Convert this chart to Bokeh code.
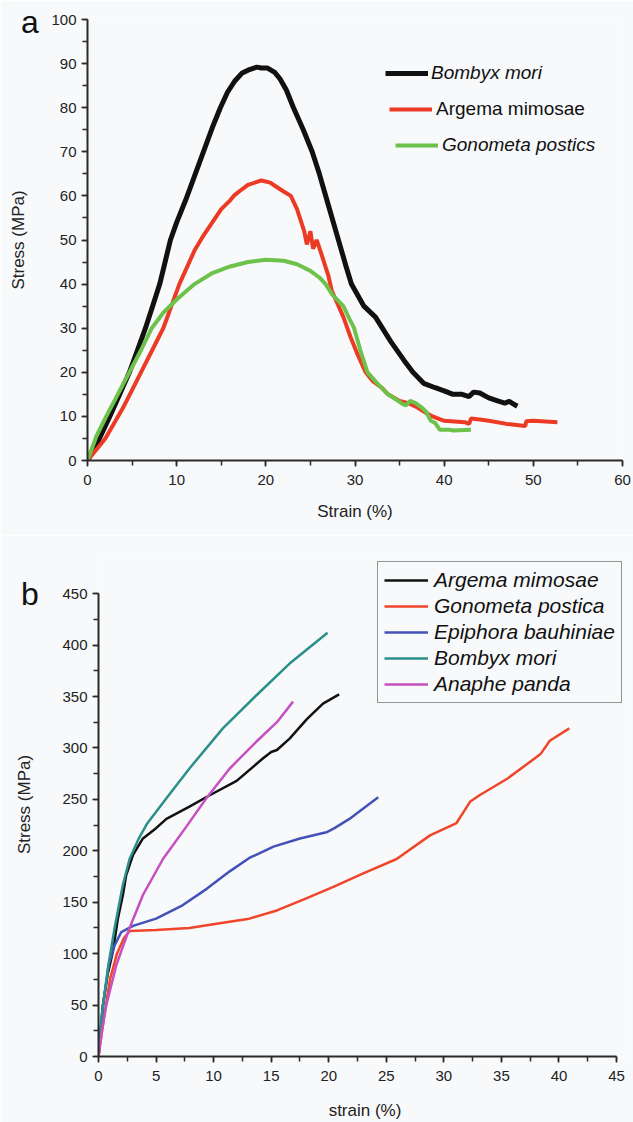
from bokeh.plotting import figure
from bokeh.models import Range1d, Legend, LegendItem, SingleIntervalTicker, Div
from bokeh.embed import file_html
from bokeh.resources import INLINE

# ---------------- Panel a data (Strain %, Stress MPa) ----------------
a_bombyx_strain = [0, 1, 2.5, 3.5, 4.7, 5.6, 6.5, 7.3, 8.1, 8.7, 9.3, 10, 11, 12, 13, 14,
                   14.9, 15.7, 16.5, 17.3, 18, 19, 19.5, 20.2, 21, 21.6, 22.3, 23.1,
                   24.2, 25.2, 26, 27, 28, 29, 29.6, 31, 32.3, 34, 35.5, 36.5, 37.7, 39, 40,
                   41, 42, 42.8, 43.3, 44, 45, 46, 46.8, 47.3, 47.7, 48.2]
a_bombyx_stress = [0, 3.5, 10, 14.5, 20, 25, 30, 35, 40, 45, 50, 54, 59, 64.5, 70, 75.5,
                   80, 83.5, 86, 87.8, 88.5, 89.2, 89, 89, 88, 86.5, 84, 80,
                   75, 70, 65, 58, 51, 44, 40, 35, 32.5, 27, 22.7, 20, 17.5, 16.5, 15.8,
                   15, 15, 14.5, 15.5, 15.3, 14.2, 13.5, 13, 13.4, 12.9, 12.3]

a_argema_strain = [0, 2, 4, 6, 8, 8.5, 10.3, 12, 13, 14, 15, 16, 16.4, 17, 18, 19.5, 20.5,
                   21, 22, 22.8, 23.5, 24.3, 24.6, 25, 25.3, 25.7, 26.2, 27, 27.4, 28.7,
                   29.5, 30.3, 31.2, 32, 33, 33.7, 35, 36, 37, 37.8, 38.7, 40, 42.3, 42.8,
                   43, 44, 45, 47, 49.1, 49.2, 50, 52.7]
a_argema_stress = [0, 5, 12, 20, 28, 30, 40, 47.6, 51, 54, 57, 59, 60, 61, 62.5, 63.5, 63,
                   62.3, 61, 60, 57, 52, 49, 52, 48, 50, 47, 42, 38.5, 32.5,
                   28, 24, 20, 18, 16.5, 15, 13.5, 13, 12, 11, 10, 9, 8.7, 8.3,
                   9.5, 9.3, 9, 8.3, 7.8, 8.9, 9, 8.7]

a_gono_strain = [0, 1, 2.1, 3.4, 4.7, 6, 7.2, 8.5, 10, 12, 14, 16, 18, 20, 22, 23.5, 25,
                 26, 26.7, 27.5, 28.7, 29.4, 29.9, 30.6, 31.4, 32.5, 33.7, 34.5, 35.2,
                 35.7, 36.2, 36.8, 37.5, 38, 38.5, 39, 39.5, 40.5, 41, 43]
a_gono_stress = [0, 5.5, 10, 15, 20, 25, 30, 33.5, 36.5, 40, 42.5, 44, 45, 45.5, 45.3,
                 44.5, 43, 41.5, 40, 37.5, 35, 32, 30, 25, 20, 17.5, 15, 14, 13,
                 12.5, 13.5, 13, 12, 11, 9, 8.5, 7, 7, 6.8, 7]

a_labels = ["Bombyx mori", "Argema mimosae", "Gonometa postics"]

# ---------------- Panel b data (strain %, Stress MPa) ----------------
b_argema_strain = [0, 0.38, 0.8, 1.25, 1.7, 2.12, 2.4, 3, 3.86, 5, 5.9, 7.9, 9.66, 12,
                   14.3, 15, 15.5, 16.6, 18.1, 19.5, 20.9]
b_argema_stress = [0, 50, 80, 102, 135, 157, 176, 196, 212, 222, 231, 243, 254, 268,
                   290, 296, 298, 309, 328, 343, 352]

b_gono_strain = [0, 0.5, 1, 1.6, 2.2, 2.7, 5, 7.9, 10.8, 13.1, 15.5, 18.1, 20.4, 23,
                 25.9, 28.8, 31.1, 32.3, 33.1, 35.5, 38.4, 39.2, 40.9]
b_gono_stress = [0, 40, 75, 100, 115, 122, 123, 125, 130, 134, 142, 154, 165, 178,
                 192, 215, 227, 248, 254, 270, 294, 307, 319]

b_epi_strain = [0, 0.4, 0.9, 1.4, 1.98, 3, 5, 7.3, 9.4, 11.4, 13.1, 15.2, 17.5, 19.8,
                20.5, 21.8, 23, 24.3]
b_epi_stress = [0, 50, 90, 108, 121, 127, 134, 147, 163, 180, 193, 204, 212, 218,
                222, 231, 241, 252]

b_bombyx_strain = [0, 0.24, 0.82, 1.4, 2.12, 2.7, 3.5, 4.2, 5.9, 7.9, 10.8, 13.7, 16.6, 19.9]
b_bombyx_stress = [0, 37, 86, 125, 167, 192, 212, 226, 251, 280, 319, 351, 382, 412]

b_anaphe_strain = [0, 0.3, 0.68, 1.55, 2.7, 3.86, 5.6, 7.6, 9.37, 11.4, 13.7, 15.5, 16.9]
b_anaphe_stress = [0, 25, 50, 89, 125, 157, 192, 223, 251, 280, 306, 325, 345]

b_labels = ["Argema mimosae", "Gonometa postica", "Epiphora bauhiniae", "Bombyx mori", "Anaphe panda"]

BG = "#f8f9fb"
FONT = "Liberation Sans"
AX = "#2a2a2a"


def style(p, xint, yint, xstand, ystand):
    p.xaxis.ticker = SingleIntervalTicker(interval=xint, num_minor_ticks=2)
    p.yaxis.ticker = SingleIntervalTicker(interval=yint, num_minor_ticks=2)
    for ax in (p.xaxis[0], p.yaxis[0]):
        ax.axis_line_width = 2
        ax.axis_line_color = AX
        ax.major_tick_line_color = AX
        ax.minor_tick_line_color = AX
        ax.major_tick_line_width = 1.5
        ax.minor_tick_line_width = 1.5
        ax.major_tick_out = 6
        ax.major_tick_in = 0
        ax.minor_tick_out = 5
        ax.minor_tick_in = 0
        ax.major_label_text_font = FONT
        ax.major_label_text_font_size = "15px"
        ax.major_label_text_color = "#222222"
        ax.axis_label_text_font = FONT
        ax.axis_label_text_font_size = "17px"
        ax.axis_label_text_font_style = "normal"
        ax.axis_label_text_color = "#222222"
    p.xaxis.major_label_standoff = 8
    p.yaxis.major_label_standoff = 5
    p.xaxis.axis_label_standoff = xstand
    p.yaxis.axis_label_standoff = ystand
    p.grid.visible = False
    p.outline_line_color = None
    p.background_fill_color = BG
    p.border_fill_color = BG


# ---------------- Figure a ----------------
pa = figure(width=633, height=535, x_range=Range1d(0, 60), y_range=Range1d(0, 100),
            output_backend="svg", toolbar_location=None,
            min_border_left=87, min_border_right=11, min_border_top=19, min_border_bottom=75,
            x_axis_label="Strain (%)", y_axis_label="Stress (MPa)")
style(pa, 10, 10, 14, 20)

ra1 = pa.line(a_bombyx_strain, a_bombyx_stress, line_color="#111111", line_width=5)
ra2 = pa.line(a_argema_strain, a_argema_stress, line_color="#ec3a24", line_width=4)
ra3 = pa.line(a_gono_strain, a_gono_stress, line_color="#6cc24a", line_width=4)

for rr, lab, loc, st, style_ in [(ra1, a_labels[0], (298, 376), 3, "italic"),
                                  (ra2, a_labels[1], (302, 340), 4, "normal"),
                                  (ra3, a_labels[2], (308, 304), 4, "italic")]:
    lg = Legend(items=[LegendItem(label=lab, renderers=[rr])], location=loc,
                border_line_color=None, background_fill_alpha=0,
                label_text_font=FONT, label_text_font_size="19px",
                label_text_font_style=style_, label_text_color="#111111",
                glyph_width=43, glyph_height=20, label_height=20,
                padding=0, margin=0, label_standoff=st)
    pa.add_layout(lg)

# ---------------- Figure b ----------------
# frame extended past 450 / 45 so the legend box (which sticks out) is not clipped;
# axis bounds keep the axis lines at 0-450 and 0-45 as in the original
pb = figure(width=633, height=587, x_range=Range1d(0, 46.3), y_range=Range1d(0, 490),
            output_backend="svg", toolbar_location=None,
            min_border_left=98, min_border_right=2, min_border_top=17, min_border_bottom=64,
            x_axis_label="strain (%)", y_axis_label="Stress (MPa)")
style(pb, 5, 50, 17, 25)
pb.xaxis.bounds = (0, 45)
pb.yaxis.bounds = (0, 450)

rb1 = pb.line(b_argema_strain, b_argema_stress, line_color="#111111", line_width=2.5)
rb2 = pb.line(b_gono_strain, b_gono_stress, line_color="#f0452a", line_width=2.5)
rb3 = pb.line(b_epi_strain, b_epi_stress, line_color="#4252b8", line_width=2.5)
rb4 = pb.line(b_bombyx_strain, b_bombyx_stress, line_color="#2b8f8b", line_width=2.5)
rb5 = pb.line(b_anaphe_strain, b_anaphe_stress, line_color="#c64fc2", line_width=2.5)

lgb = Legend(items=[LegendItem(label=l, renderers=[r]) for l, r in
                    zip(b_labels, [rb1, rb2, rb3, rb4, rb5])],
             location=(279, 353), border_line_color="#333333", border_line_width=1.5,
             background_fill_color=BG, background_fill_alpha=1,
             label_text_font=FONT, label_text_font_size="21px",
             label_text_font_style="italic", label_text_color="#111111",
             glyph_width=44, glyph_height=20, label_height=24, spacing=2,
             padding=6, margin=0, label_standoff=6)
pb.add_layout(lgb)

# panel letters
lab_style = {"position": "absolute", "margin": "0", "padding": "0",
             "font-family": FONT, "font-size": "32px", "line-height": "normal",
             "color": "#111111"}
div_a = Div(text="a", styles=dict(lab_style, left="21px", top="4px"))
div_b = Div(text="b", styles=dict(lab_style, left="21px", top="576px"))

open("out.html", "w").write(file_html([pa, pb, div_a, div_b], INLINE))
